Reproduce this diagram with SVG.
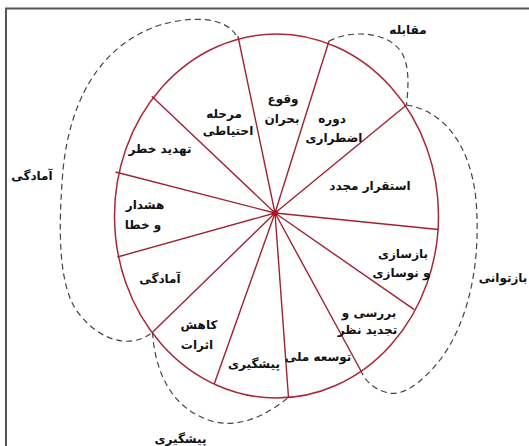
<svg xmlns="http://www.w3.org/2000/svg" width="529" height="446" viewBox="0 0 529 446">
<style>
.lbl{font-family:"DejaVu Sans","Noto Sans",sans-serif;font-weight:bold;font-size:12px;fill:#111;text-anchor:middle;direction:rtl}
.spoke{stroke:#9e2233;stroke-width:1.4;fill:none}
.rim{stroke:#a8283a;stroke-width:1.5;fill:#fff}
.phase{stroke:#444;stroke-width:1.2;fill:none;stroke-dasharray:6 4}
.frame{stroke:#555;stroke-width:2;fill:none}
</style>
<rect width="529" height="446" fill="#fff"/>
<path class="frame" d="M6,446 V8.5 H529"/>
<g id="wheel">
<ellipse class="rim" cx="276.5" cy="216" rx="162" ry="182"/>
<g class="spoke">
<line x1="275" y1="213" x2="237.9" y2="36"/>
<line x1="275" y1="213" x2="329" y2="41"/>
<line x1="275" y1="213" x2="406.5" y2="105"/>
<line x1="275" y1="213" x2="438.5" y2="229.5"/>
<line x1="275" y1="213" x2="414.3" y2="309.7"/>
<line x1="275" y1="213" x2="361" y2="371"/>
<line x1="275" y1="213" x2="288.5" y2="397.5"/>
<line x1="275" y1="213" x2="214.2" y2="384"/>
<line x1="275" y1="213" x2="152.5" y2="332.3"/>
<line x1="275" y1="213" x2="117.4" y2="257"/>
<line x1="275" y1="213" x2="115.5" y2="172"/>
<line x1="275" y1="213" x2="151.8" y2="96.2"/>
</g>
<circle cx="275" cy="213" r="3" fill="#b80f1a"/>
</g>
<g id="s1"><text class="lbl" x="283" y="103">وقوع</text><text class="lbl" x="282" y="123">بحران</text></g>
<g id="s2"><text class="lbl" x="332" y="123">دوره</text><text class="lbl" x="334" y="142">اضطراری</text></g>
<g id="s3"><text class="lbl" x="370" y="190">استقرار مجدد</text></g>
<g id="s4"><text class="lbl" x="403" y="258">بازسازی</text><text class="lbl" x="401.5" y="277">و نوسازی</text></g>
<g id="s5"><text class="lbl" x="369" y="317">بررسی و</text><text class="lbl" x="367.5" y="334">تجدید نظر</text></g>
<g id="s6"><text class="lbl" x="318" y="361">توسعه ملی</text></g>
<g id="s7"><text class="lbl" x="254" y="368">پیشگیری</text></g>
<g id="s8"><text class="lbl" x="199" y="329">کاهش</text><text class="lbl" x="197" y="349">اثرات</text></g>
<g id="s9"><text class="lbl" x="160" y="283">آمادگی</text></g>
<g id="s10"><text class="lbl" x="145" y="209">هشدار</text><text class="lbl" x="143" y="229">و خطا</text></g>
<g id="s11"><text class="lbl" x="160" y="153">تهدید خطر</text></g>
<g id="s12"><text class="lbl" x="224" y="118">مرحله</text><text class="lbl" x="228" y="135">احتیاطی</text></g>
<g id="phases">
<path class="phase" d="M236,35 C225,18 195,15 160,25 C100,45 70,100 63,170 C58,230 58,290 80,315 C100,340 130,350 152.5,332.3"/>
<path class="phase" d="M152.5,332.3 C155,370 170,410 215,422 C245,428 270,412 288.5,397.5"/>
<path class="phase" d="M406.5,105 C440,110 470,140 476,200 C481,260 470,320 440,360 C420,385 400,398 385,392 C372,388 365,380 361,371"/>
<path class="phase" d="M329,41 C350,30 390,30 403,55 C410,70 408,90 406.5,105"/>
</g>
<g id="phase-labels">
<text class="lbl" x="408" y="34">مقابله</text>
<text class="lbl" x="503" y="282">بازتوانی</text>
<text class="lbl" x="32" y="180">آمادگی</text>
<text class="lbl" x="180.5" y="443">پیشگیری</text>
</g>
</svg>
